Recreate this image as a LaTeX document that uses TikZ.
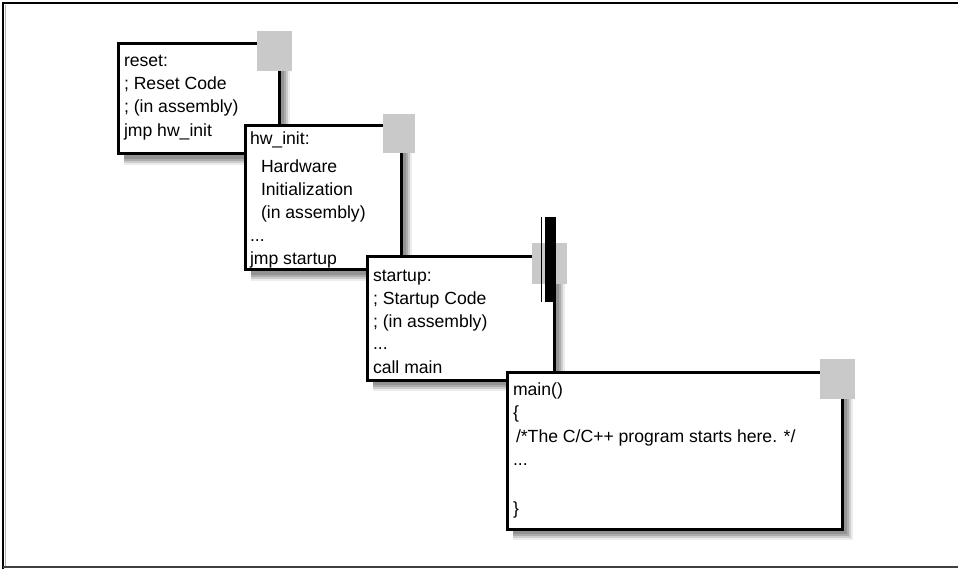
\documentclass[tikz,border=0pt]{standalone}
\usepackage{fontspec}
\setmainfont{Liberation Sans}
\tikzset{
  boxframe/.style={draw=black, line width=3pt, fill=white, rectangle, inner sep=0pt, outer sep=0pt},
  txt/.style={inner sep=0pt, outer sep=0pt, anchor=base west, font=\fontsize{17.6}{20}\selectfont},
  tab/.style={fill=black!21},
  framepen/.style={line width=1.5pt, black},
}
\newcommand\codebox[5]{%
  \fill[gray!15] (#2+6,#3+6) rectangle (#4+11,#5+11);
  \fill[gray!40] (#2+6,#3+6) rectangle (#4+9,#5+9);
  \fill[gray!65] (#2+6,#3+6) rectangle (#4+7,#5+7);
  \fill[gray!85] (#2+6,#3+6) rectangle (#4+5,#5+5);
  \node[boxframe, minimum width={(#4-#2)*1pt}, minimum height={(#5-#3)*1pt}, anchor=north west] (#1) at (#2,#3) {};
}
\begin{document}
\begin{tikzpicture}[x=1pt,y=-1pt]
\useasboundingbox (0,0) rectangle (958,569);
\fill[white] (0,0) rectangle (958,569);
% outer frame
\draw[framepen] (3,569) -- (3,3) -- (958,3);
\draw[gray!60, line width=1pt] (5,5) -- (5,566);
\draw[line width=2pt, black!75] (3,567) -- (958,567);

% box 1
\codebox{b1}{118}{44}{279}{154}
\fill[tab] (257,31) rectangle (292,71);
\node[txt] (b1a) at (124,67) {reset:};
\node[txt] (b1b) at (124,90) {; Reset Code};
\node[txt] (b1c) at (124,113) {; (in assembly)};
\node[txt] (b1d) at (124,137) {jmp hw\_init};

% box 2
\codebox{b2}{245}{126}{401}{270}
\fill[tab] (383,114) rectangle (415,153);
\node[txt] (b2a) at (250,145) {hw\_init:};
\node[txt] (b2b) at (261,173) {Hardware};
\node[txt] (b2c) at (261,196) {Initialization};
\node[txt] (b2d) at (261,219) {(in assembly)};
\node[txt] (b2e) at (250,242) {...};
\node[txt] (b2f) at (250,265) {jmp startup};

% box 3
\codebox{b3}{367}{257}{554}{380}
\fill[tab] (532,243) rectangle (567,284);
\fill[black] (545,217) rectangle (556,302);
\draw[line width=1pt] (541,217) -- (541,302);
\node[txt] (b3a) at (373,281) {startup:};
\node[txt] (b3b) at (373,304) {; Startup Code};
\node[txt] (b3c) at (373,327) {; (in assembly)};
\node[txt] (b3d) at (373,349) {...};
\node[txt] (b3e) at (373,373) {call main};

% box 4
\codebox{b4}{507}{372}{842}{529}
\fill[tab] (820,359) rectangle (855,399);
\node[txt] (b4a) at (513,395) {main()};
\node[txt] (b4b) at (513,418) {\{};
\node[txt] (b4c) at (516,442) {/*The C/C++ program starts here. */};
\node[txt] (b4d) at (513,465) {...};
\node[txt] (b4e) at (513,514) {\}};
\end{tikzpicture}
\end{document}
